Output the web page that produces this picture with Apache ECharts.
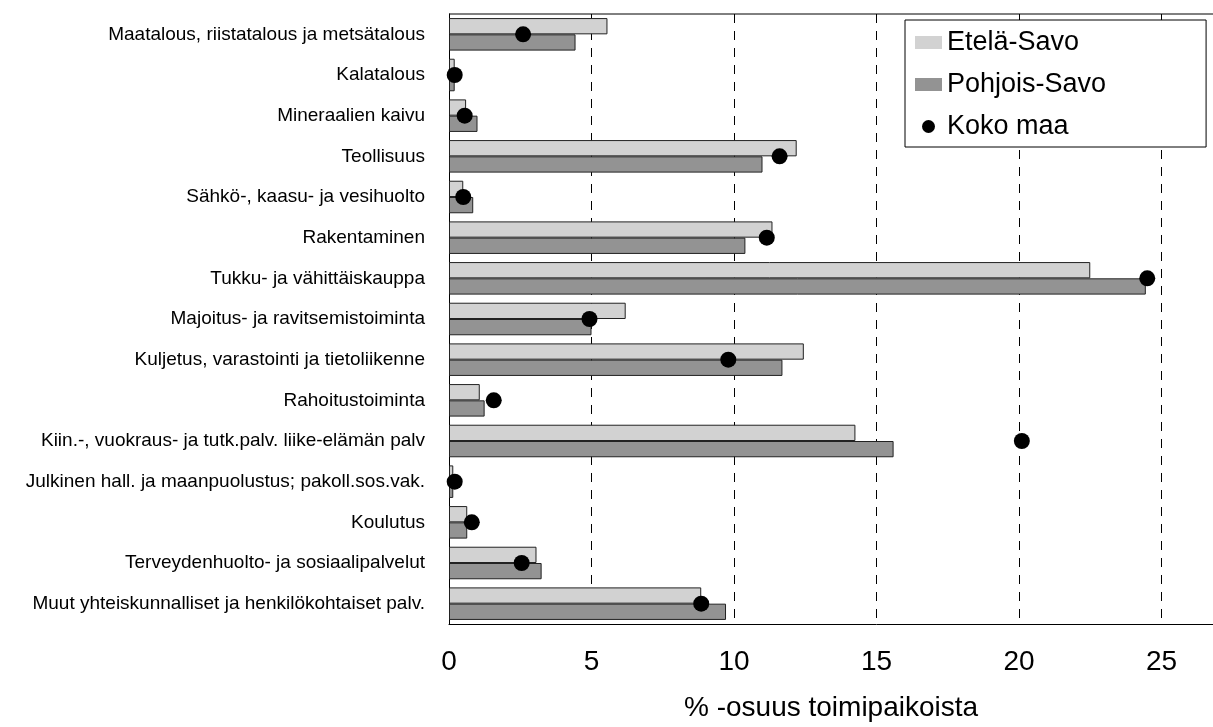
<!DOCTYPE html>
<html><head><meta charset="utf-8">
<script src="https://cdn.jsdelivr.net/npm/echarts@6/dist/echarts.min.js"></script>
<style>html,body{margin:0;padding:0;background:#fff;overflow:hidden;width:1213px;height:727px}#c{width:1307px;height:727px}</style>
</head><body><div id="c"></div>
<script>
const categories = [
  "Maatalous, riistatalous ja metsätalous",
  "Kalatalous",
  "Mineraalien kaivu",
  "Teollisuus",
  "Sähkö-, kaasu- ja vesihuolto",
  "Rakentaminen",
  "Tukku- ja vähittäiskauppa",
  "Majoitus- ja ravitsemistoiminta",
  "Kuljetus, varastointi ja tietoliikenne",
  "Rahoitustoiminta",
  "Kiin.-, vuokraus- ja tutk.palv. liike-elämän palv",
  "Julkinen hall. ja maanpuolustus; pakoll.sos.vak.",
  "Koulutus",
  "Terveydenhuolto- ja sosiaalipalvelut",
  "Muut yhteiskunnalliset ja henkilökohtaiset palv."
];
const etelaSavo   = [5.56, 0.2, 0.6, 12.2, 0.5, 11.35, 22.5, 6.2, 12.45, 1.08, 14.26, 0.15, 0.64, 3.07, 8.85];
const pohjoisSavo = [4.44, 0.2, 1.0, 11.0, 0.85, 10.4, 24.45, 5.0, 11.7, 1.25, 15.6, 0.15, 0.64, 3.25, 9.72];
const kokoMaa     = [2.6, 0.2, 0.55, 11.6, 0.5, 11.15, 24.5, 4.93, 9.8, 1.57, 20.1, 0.2, 0.8, 2.55, 8.85];
const xTicks = [0, 5, 10, 15, 20, 25];

const chart = echarts.init(document.getElementById('c'), null, {renderer: 'canvas'});
const font = 'Liberation Sans, Arial, sans-serif';
chart.setOption({
  animation: false,
  backgroundColor: '#fff',
  title: {
    text: '% -osuus toimipaikoista',
    left: 684, top: 694,
    padding: 0,
    textStyle: {fontFamily: font, fontSize: 28, fontWeight: 'normal', color: '#000'}
  },
  legend: {
    orient: 'vertical',
    left: 905, top: 20,
    itemWidth: 27, itemHeight: 13,
    itemGap: 15,
    padding: [9, 100, 7, 10],
    backgroundColor: '#fff',
    borderColor: '#000', borderWidth: 1,
    textStyle: {fontFamily: font, fontSize: 27, color: '#000'},
    itemStyle: {borderWidth: 0},
    data: [
      {name: 'Etelä-Savo', icon: 'rect'},
      {name: 'Pohjois-Savo', icon: 'rect'},
      {name: 'Koko maa', icon: 'circle'}
    ]
  },
  grid: {left: 449, top: 14, bottom: 103, right: 0},
  xAxis: {
    type: 'value', min: 0, max: 30, interval: 5,
    axisLine: {show: true, lineStyle: {color: '#000', width: 1}},
    axisTick: {show: false},
    axisLabel: {fontFamily: font, fontSize: 28, color: '#000', margin: 24,
      formatter: v => xTicks.indexOf(v) >= 0 ? String(v) : ''},
    splitLine: {show: true, lineStyle: {color: '#000', type: [9, 8], width: 1}}
  },
  yAxis: {
    type: 'category', data: categories, inverse: true,
    axisLine: {show: true, lineStyle: {color: '#000', width: 1}},
    axisTick: {show: false},
    axisLabel: {fontFamily: font, fontSize: 19, color: '#000', margin: 24}
  },
  series: [
    {
      name: 'Etelä-Savo', type: 'bar', data: etelaSavo,
      barGap: '0%', barCategoryGap: '20%',
      itemStyle: {color: '#d2d2d2', borderColor: '#222', borderWidth: 1}
    },
    {
      name: 'Pohjois-Savo', type: 'bar', data: pohjoisSavo,
      itemStyle: {color: '#939393', borderColor: '#222', borderWidth: 1}
    },
    {
      name: 'Koko maa', type: 'scatter',
      data: kokoMaa.map((v, i) => [v, categories[i]]),
      symbol: 'circle', symbolSize: 16,
      itemStyle: {color: '#000', opacity: 1}, z: 5
    }
  ],
  graphic: [
    {type: 'line', shape: {x1: 449, y1: 14, x2: 1307, y2: 14}, style: {stroke: '#000', lineWidth: 1}}
  ]
});
</script></body></html>
